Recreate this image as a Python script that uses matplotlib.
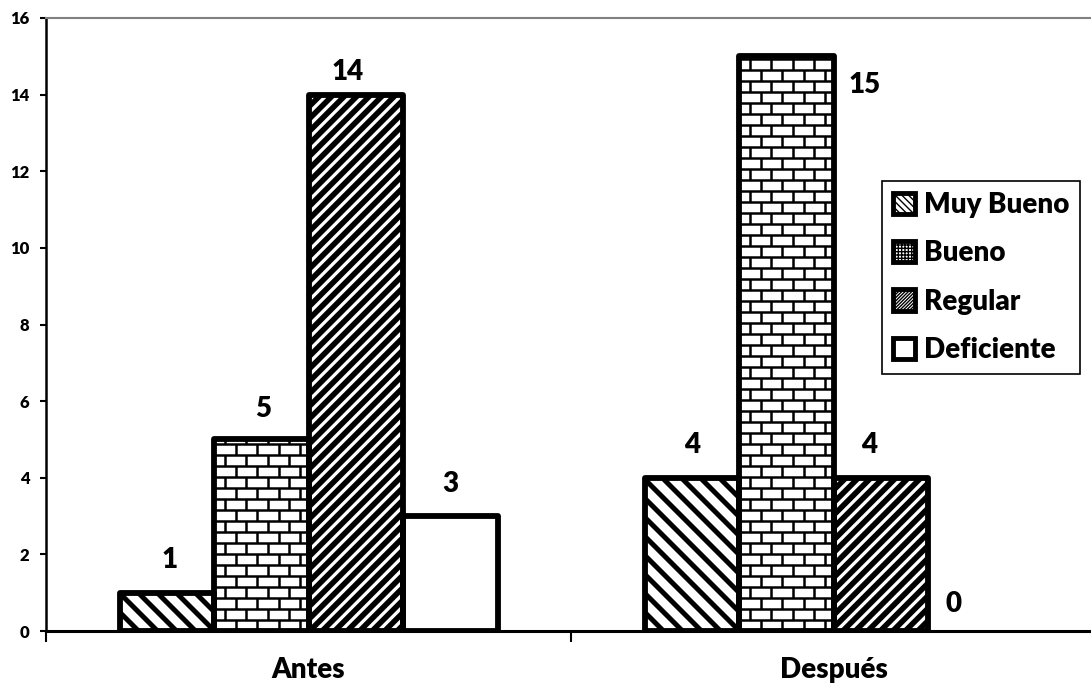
import numpy as np
import matplotlib
matplotlib.use("Agg")
import matplotlib.pyplot as plt
from matplotlib.collections import LineCollection
from matplotlib.patches import Rectangle
from matplotlib.transforms import IdentityTransform

groups = ["Antes", "Después"]
series = ["Muy Bueno", "Bueno", "Regular", "Deficiente"]
muy_bueno = [1, 4]
bueno = [5, 15]
regular = [14, 4]
deficiente = [3, 0]
y_ticks = [0, 2, 4, 6, 8, 10, 12, 14, 16]

plt.rcParams["font.family"] = ["Lato", "DejaVu Sans"]
plt.rcParams["font.weight"] = "bold"


def diagonal(bb, step, direction):
    # stripes in pixel coords, direction 1 = "/", -1 = "\"
    h = bb.height
    segs = []
    for c in np.arange(-h - step, bb.width + h + step, step):
        if direction > 0:
            segs.append([(bb.x0 + c, bb.y0), (bb.x0 + c + h, bb.y1)])
        else:
            segs.append([(bb.x0 + c, bb.y1), (bb.x0 + c + h, bb.y0)])
    return segs


def bricks(bb, row_h, brick_w):
    segs = []
    ys = np.arange(bb.y0, bb.y1 + row_h, row_h)
    for i, y in enumerate(ys):
        segs.append([(bb.x0, y), (bb.x1, y)])
        off = (brick_w / 2) * (i % 2)
        for xx in np.arange(bb.x0 - brick_w + off, bb.x1 + brick_w, brick_w):
            segs.append([(xx, y), (xx, y + row_h)])
    return segs


fig = plt.figure(figsize=(10.91, 6.98), dpi=100)
ax = fig.add_axes([46 / 1091, 67 / 698, 1050 / 1091, 613 / 698])

values = [muy_bueno, bueno, regular, deficiente]
x = np.arange(len(groups))
width = 0.18
offsets = (np.arange(len(series)) - 1.5) * width

bars = []
for i, vals in enumerate(values):
    b = ax.bar(x + offsets[i], vals, width, facecolor="none", edgecolor="black",
               linewidth=4.2, joinstyle="round", zorder=3)
    for patch, v in zip(b, vals):
        if v == 0:
            patch.set_linewidth(0)
    bars.append(b)

ax.set_xlim(-0.5, 1.5)
ax.set_ylim(0, 16)
fig.canvas.draw()

# textures drawn by hand, clipped to each bar
for k, b in enumerate(bars):
    for patch in b:
        bb = patch.get_window_extent()
        if bb.height <= 0:
            continue
        if k == 0:
            segs, lw = diagonal(bb, 19, -1), 3.6
        elif k == 1:
            segs, lw = bricks(bb, 11, 21.5), 1.8
        elif k == 2:
            segs, lw = diagonal(bb, 12.5, 1), 4.0
        else:
            continue
        lc = LineCollection(segs, colors="black", linewidths=lw,
                            transform=IdentityTransform(), zorder=2)
        ax.add_collection(lc, autolim=False)
        lc.set_clip_path(patch)

# data labels, offsets in pixels
label_shift = [[(3, 33), (0, 33)], [(2, 30), (78, -29)],
               [(-8, 23), (-12, 33)], [(0, 32), (-22, 27)]]
for i, vals in enumerate(values):
    for j, v in enumerate(vals):
        dx, dy = label_shift[i][j]
        ax.annotate(str(v), (x[j] + offsets[i], v), xytext=(dx * 0.72, dy * 0.72),
                    textcoords="offset points", ha="center", va="center",
                    fontsize=20, fontweight="heavy")

ax.set_xticks([-0.5, 0.5, 1.5], ["", "", ""])
ax.set_xticks(x, groups, minor=True)
ax.tick_params(axis="x", which="major", length=8, width=1.5, direction="out")
ax.tick_params(axis="x", which="minor", length=0, pad=19, labelsize=20)
ax.set_yticks(y_ticks)
ax.tick_params(axis="y", length=4, width=1.5, labelsize=12, pad=8)
for t in ax.get_xticklabels(minor=True) + ax.get_yticklabels():
    t.set_fontweight("heavy")

ax.spines["left"].set_linewidth(1.8)
ax.spines["bottom"].set_linewidth(2.2)
for s in ["top", "right"]:
    ax.spines[s].set_color("#808080")
    ax.spines[s].set_linewidth(1.5)

handles = [Rectangle((0, 0), 1, 1, facecolor="white", edgecolor="black",
                     linewidth=3.5, joinstyle="round", hatch=h)
           for h in ["\\\\\\\\\\", "+++++", "//////////", None]]
leg = ax.legend(handles, series, loc="upper left",
                bbox_to_anchor=(882 / 1091, 1 - 181 / 698),
                bbox_transform=fig.transFigure, fancybox=False,
                edgecolor="black", framealpha=1,
                prop={"size": 20, "weight": "heavy"},
                handlelength=0.8, handleheight=0.8, handletextpad=0.3,
                labelspacing=0.8, borderpad=0.4, borderaxespad=0)
leg.get_frame().set_linewidth(1.2)

fig.savefig("out.png", dpi=100)
